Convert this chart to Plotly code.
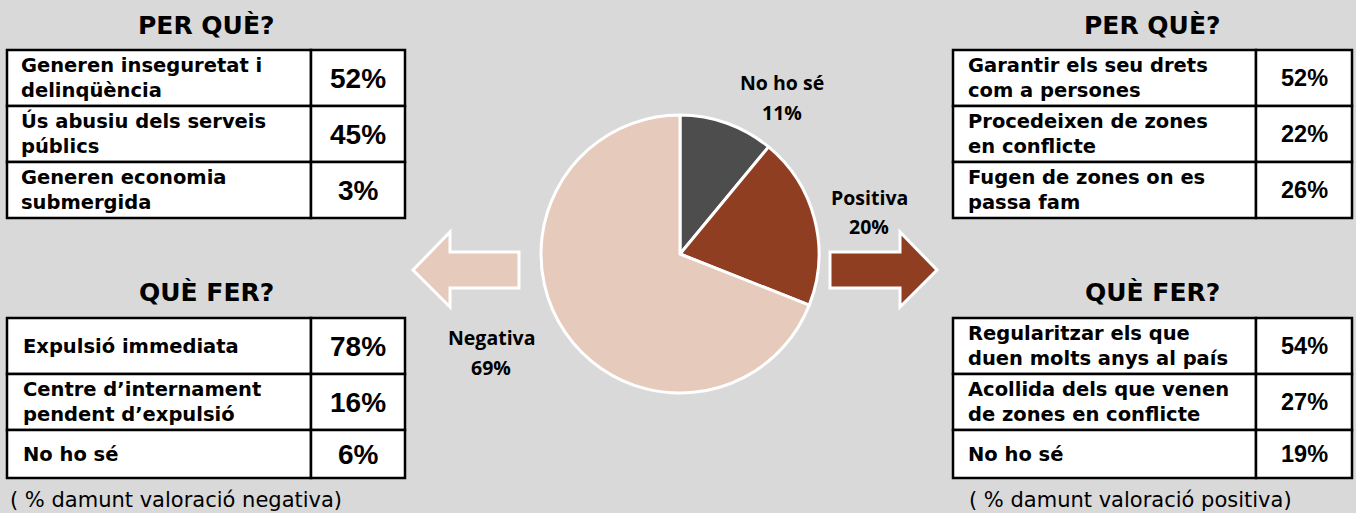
"""
Valoració de la immigració: pastís central amb taules de motius i propostes.
"""
import plotly.graph_objects as go

W, H = 1356, 513

# ── Data ─────────────────────────────────────────────────────────────────────
pie_labels = ["No ho sé", "Positiva", "Negativa"]
pie_values = [11, 20, 69]

neg_why_labels = ["Generen inseguretat i\ndelinqüència",
                  "Ús abusiu dels serveis\npúblics",
                  "Generen economia\nsubmergida"]
neg_why_values = [52, 45, 3]

neg_todo_labels = ["Expulsió immediata",
                   "Centre d’internament\npendent d’expulsió",
                   "No ho sé"]
neg_todo_values = [78, 16, 6]

pos_why_labels = ["Garantir els seu drets\ncom a persones",
                  "Procedeixen de zones\nen conflicte",
                  "Fugen de zones on es\npassa fam"]
pos_why_values = [52, 22, 26]

pos_todo_labels = ["Regularitzar els que\nduen molts anys al país",
                   "Acollida dels que venen\nde zones en conflicte",
                   "No ho sé"]
pos_todo_values = [54, 27, 19]

title_why = "PER QUÈ?"
title_todo = "QUÈ FER?"
note_neg = "( % damunt valoració negativa)"
note_pos = "( % damunt valoració positiva)"

# ── Styling ──────────────────────────────────────────────────────────────────
BG = "#d9d9d9"
PIE_COLORS = ["#4d4d4d", "#8f3e22", "#e6cabb"]
TXT_FONT = "DejaVu Sans"
NUM_FONT = "Liberation Sans"
LBL_FONT = "Open Sans"


def px(x):
    return x / W


def py(y):
    return 1 - y / H


shapes = []
annotations = []


def add_text(x, y, text, size, family=TXT_FONT, bold=True, xanchor="center", color="#000000"):
    annotations.append(dict(
        x=px(x), y=py(y), xref="paper", yref="paper",
        text=f"<b>{text}</b>" if bold else text,
        showarrow=False, xanchor=xanchor, yanchor="middle",
        font=dict(family=family, size=size, color=color),
    ))


def add_table(x0, x1, xdiv, row_edges, labels, values, num_size, text_x):
    for i, (lab, val) in enumerate(zip(labels, values)):
        top, bot = row_edges[i], row_edges[i + 1]
        for a, b in ((x0, xdiv), (xdiv, x1)):
            shapes.append(dict(
                type="rect", xref="paper", yref="paper",
                x0=px(a), x1=px(b), y0=py(bot), y1=py(top),
                fillcolor="white", line=dict(color="black", width=2.5),
            ))
        mid = (top + bot) / 2
        lines = lab.split("\n")
        if len(lines) == 1:
            add_text(text_x, mid, lines[0], 19.5, xanchor="left")
        else:
            add_text(text_x, mid - 12.5, lines[0], 19.5, xanchor="left")
            add_text(text_x, mid + 12.5, lines[1], 19.5, xanchor="left")
        add_text((xdiv + x1) / 2, mid, f"{val}%", num_size, family=NUM_FONT)


def arrow_path(points):
    pts = [f"{px(x):.5f},{py(y):.5f}" for x, y in points]
    return "M " + " L ".join(pts) + " Z"


# ── Tables ───────────────────────────────────────────────────────────────────
top_rows = [50, 106, 162, 218]
bot_rows = [318, 374, 430, 478]

add_text(207, 25, title_why, 25, xanchor="center")
add_table(7, 405, 311, top_rows, neg_why_labels, neg_why_values, 28, 19)
add_text(207, 292, title_todo, 25, xanchor="center")
add_table(7, 405, 311, bot_rows, neg_todo_labels, neg_todo_values, 28, 21)
add_text(8, 500, note_neg, 21, bold=False, xanchor="left")

add_text(1152, 25, title_why, 25, xanchor="center")
add_table(953, 1352, 1256, top_rows, pos_why_labels, pos_why_values, 23.5, 966)
add_text(1152, 292, title_todo, 25, xanchor="center")
add_table(953, 1352, 1256, bot_rows, pos_todo_labels, pos_todo_values, 23.5, 966)
add_text(967, 500, note_pos, 21, bold=False, xanchor="left")

# ── Arrows ───────────────────────────────────────────────────────────────────
left_arrow = [(413, 270), (450, 232), (450, 252), (519, 252), (519, 288), (450, 288), (450, 307)]
right_arrow = [(830, 252), (900, 252), (900, 232), (937, 270), (900, 307), (900, 288), (830, 288)]
shapes.append(dict(type="path", xref="paper", yref="paper", path=arrow_path(left_arrow),
                   fillcolor=PIE_COLORS[2], line=dict(color="white", width=3)))
shapes.append(dict(type="path", xref="paper", yref="paper", path=arrow_path(right_arrow),
                   fillcolor=PIE_COLORS[1], line=dict(color="white", width=3)))

# ── Pie ──────────────────────────────────────────────────────────────────────
cx, cy, r = 680, 254, 139
fig = go.Figure(go.Pie(
    labels=pie_labels,
    values=pie_values,
    sort=False,
    direction="clockwise",
    rotation=0,
    textinfo="none",
    hoverinfo="label+percent",
    marker=dict(colors=PIE_COLORS, line=dict(color="white", width=3)),
    domain=dict(x=[px(cx - r), px(cx + r)], y=[py(cy + r), py(cy - r)]),
    showlegend=False,
))

# pie labels (name on first line, percentage below)
label_pos = {"No ho sé": (782, 82), "Positiva": (869, 197), "Negativa": (491, 337)}
for name, val in zip(pie_labels, pie_values):
    lx, ly = label_pos[name]
    add_text(lx, ly, name, 19.5, family=LBL_FONT)
    add_text(lx, ly + 30, f"{val}%", 19.5, family=LBL_FONT)

fig.update_layout(
    width=W, height=H,
    margin=dict(l=0, r=0, t=0, b=0),
    paper_bgcolor=BG,
    plot_bgcolor=BG,
    shapes=shapes,
    annotations=annotations,
)

fig.write_html("out.html", config={"displayModeBar": False},
               post_script="document.body.style.margin='0';")
